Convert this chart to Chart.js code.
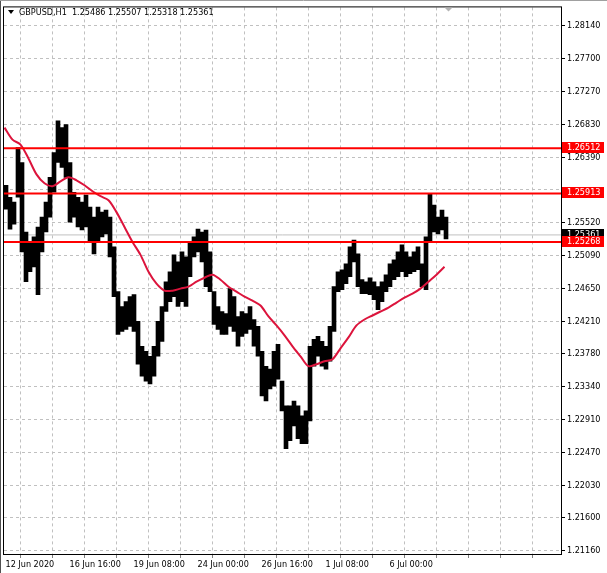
<!DOCTYPE html>
<html>
<head>
  <title>GBPUSD,H1</title>
  <meta charset="UTF-8">
  <script src="https://cdn.jsdelivr.net/npm/chart.js"></script>
  <style>
    body { margin: 0; background: #fff; }
    #wrap { width: 607px; height: 573px; }
  </style>
</head>
<body>
  <div id="wrap"><canvas id="priceChart" width="607" height="573"></canvas></div>

  <script>
    // H1 bars, grouped by 4 hours (index = hours since 12 Jun 2020 00:00, trading hours only)
    const barHigh = [
      1.26021, 1.25862, 1.25796, 1.26523, 1.26324, 1.25400, 1.25268, 1.25334, 1.25466, 1.25598,
      1.25796, 1.26126, 1.26457, 1.26879, 1.26787, 1.26826, 1.26324, 1.25928, 1.25862, 1.25796,
      1.25889, 1.25730, 1.25598, 1.25730, 1.25664, 1.25690, 1.25598, 1.25202, 1.24607, 1.24409,
      1.24475, 1.24541, 1.24568, 1.24211, 1.23881, 1.23815, 1.23748, 1.23881, 1.24211, 1.24409,
      1.24739, 1.24871, 1.25096, 1.25003, 1.25136, 1.25069, 1.25268, 1.25334, 1.25439, 1.25400,
      1.25426, 1.25136, 1.24607, 1.24409, 1.24343, 1.24317, 1.24647, 1.24541, 1.24277, 1.24343,
      1.24317, 1.24409, 1.24237, 1.24145, 1.23815, 1.23616, 1.23577, 1.23815, 1.23907, 1.23418,
      1.23088, 1.23088, 1.23154, 1.23088, 1.22956, 1.23022, 1.23881, 1.23973, 1.24013, 1.23947,
      1.23881, 1.24145, 1.24673, 1.24871, 1.24898, 1.24977, 1.25202, 1.25294, 1.25109, 1.24766,
      1.24739, 1.24792, 1.24739, 1.24673, 1.24739, 1.24832, 1.24977, 1.25030, 1.25136, 1.25228,
      1.25136, 1.25069, 1.25136, 1.25202, 1.24977, 1.25334, 1.25915, 1.25756, 1.25598, 1.25690, 1.25598
    ];
    const barLow = [
      1.25704, 1.25439, 1.25505, 1.25862, 1.25136, 1.24739, 1.24871, 1.24937, 1.24568, 1.25136,
      1.25400, 1.25598, 1.25928, 1.26324, 1.26258, 1.26126, 1.25532, 1.25598, 1.25466, 1.25426,
      1.25466, 1.25268, 1.25109, 1.25268, 1.25334, 1.25373, 1.25069, 1.24541, 1.24039, 1.24079,
      1.24105, 1.24145, 1.24079, 1.23643, 1.23484, 1.23418, 1.23379, 1.23484, 1.23748, 1.23947,
      1.24343, 1.24475, 1.24541, 1.24409, 1.24475, 1.24409, 1.24805, 1.25069, 1.25136, 1.25003,
      1.24673, 1.24607, 1.24171, 1.24105, 1.24039, 1.24039, 1.24145, 1.24079, 1.23881, 1.24013,
      1.24052, 1.24105, 1.23881, 1.23748, 1.23220, 1.23154, 1.23313, 1.23352, 1.23445, 1.23022,
      1.22520, 1.22626, 1.22824, 1.22652, 1.22586, 1.22586, 1.22890, 1.23616, 1.23748, 1.23616,
      1.23577, 1.23682, 1.24079, 1.24607, 1.24634, 1.24713, 1.24805, 1.25003, 1.24673, 1.24581,
      1.24581, 1.24568, 1.24501, 1.24369, 1.24475, 1.24607, 1.24673, 1.24766, 1.24805, 1.24871,
      1.24805, 1.24845, 1.24871, 1.24898, 1.24673, 1.24634, 1.25268, 1.25400, 1.25373, 1.25426, 1.25307
    ];
    const barsPerGroup = 4;

    // moving average, one value every 8 bars
    const maValues = [
      1.26787, 1.26628, 1.26562, 1.26377, 1.26166, 1.26047, 1.26007, 1.26073, 1.26126, 1.26087,
      1.26021, 1.25941, 1.25875, 1.25822, 1.25664, 1.25466, 1.25268, 1.25096, 1.24871, 1.24713,
      1.24620, 1.24620, 1.24647, 1.24673, 1.24739, 1.24792, 1.24832, 1.24766, 1.24673, 1.24607,
      1.24541, 1.24488, 1.24422, 1.24277, 1.24158, 1.24026, 1.23881, 1.23748, 1.23616, 1.23643,
      1.23682, 1.23709, 1.23854, 1.23999, 1.24158, 1.24237, 1.24290, 1.24343, 1.24396, 1.24462,
      1.24528, 1.24581, 1.24647, 1.24739, 1.24832, 1.24937
    ];
    const maStep = 8;

    const levels = [1.26512, 1.25913, 1.25268];
    const bidPrice = 1.25361;
    const lastOHLC = [1.25486, 1.25507, 1.25318, 1.25361];

    const yTicks = [1.28140, 1.27700, 1.27270, 1.26830, 1.26390, 1.25960, 1.25520, 1.25090,
                    1.24650, 1.24210, 1.23780, 1.23340, 1.22910, 1.22470, 1.22030, 1.21600, 1.21160];
    const xTickBars = [0, 64, 128, 192, 256, 320, 384];
    const xTickText = ['12 Jun 2020', '16 Jun 16:00', '19 Jun 08:00', '24 Jun 00:00',
                       '26 Jun 16:00', '1 Jul 08:00', '6 Jul 00:00'];

    const FONT = '"DejaVu Sans Condensed", "DejaVu Sans", sans-serif';
    Chart.defaults.font.family = FONT;
    Chart.defaults.font.size = 9;
    Chart.defaults.color = '#000';

    const xMin = -0.5, xMax = 556.5;
    const lastBar = barHigh.length * barsPerGroup - 1;

    const bars = barHigh.map((h, i) => ({ x: i * barsPerGroup + (barsPerGroup - 1) / 2, y: [barLow[i], h] }));
    const ma = maValues.map((v, i) => ({ x: i * maStep, y: v }));
    const flat = v => [{ x: xMin, y: v }, { x: xMax, y: v }];

    // grid every 32 bars
    const xGrid = [];
    for (let b = 0; b <= 544; b += 32) xGrid.push(b);

    // tick labels hidden under a level tag
    const underTag = v => levels.some(l => Math.abs(l - v) < 0.0007);

    const extras = {
      id: 'extras',
      afterDraw(chart) {
        const c = chart.ctx, a = chart.chartArea;
        const ys = chart.scales.y, xs = chart.scales.x;
        c.save();
        // frame
        c.strokeStyle = '#000';
        c.lineWidth = 1;
        c.strokeRect(a.left - 0.5, a.top - 0.5, a.right - a.left + 1, a.bottom - a.top + 1);
        c.strokeStyle = '#505050';
        c.beginPath(); c.moveTo(0.5, 0); c.lineTo(0.5, 573); c.stroke();
        c.strokeStyle = '#a0a0a0';
        c.beginPath(); c.moveTo(0, 0.5); c.lineTo(607, 0.5); c.stroke();

        // chart shift marker
        const mx = Math.round(xs.getPixelForValue(lastBar)) + 0.5;
        c.fillStyle = '#b4b4b4';
        c.beginPath(); c.moveTo(mx - 4, a.top); c.lineTo(mx + 4, a.top); c.lineTo(mx, a.top + 4); c.closePath(); c.fill();

        // title
        c.fillStyle = '#000';
        c.beginPath(); c.moveTo(8, 10); c.lineTo(14, 10); c.lineTo(11, 14); c.closePath(); c.fill();
        c.font = '9px ' + FONT;
        c.textBaseline = 'middle';
        c.textAlign = 'left';
        c.fillText('GBPUSD,H1  ' + lastOHLC.map(v => v.toFixed(5)).join(' '), 19, 12.5);

        // price labels on the axis
        const tag = (v, bg) => {
          const py = Math.round(ys.getPixelForValue(v)) - 1;
          c.fillStyle = bg;
          c.fillRect(a.right + 1, py - 5, 42, 11);
          c.fillStyle = '#fff';
          c.fillText(v.toFixed(5), a.right + 6, py + 0.5);
        };
        tag(bidPrice, '#000');
        levels.forEach(v => tag(v, '#ff0000'));
        c.restore();
      }
    };

    const ctx = document.getElementById('priceChart').getContext('2d');
    const chart = new Chart(ctx, {
      data: {
        datasets: [
          ...levels.map(v => ({
            type: 'line', data: flat(v), borderColor: '#ff0000', borderWidth: 2,
            pointRadius: 0, order: 0
          })),
          {
            type: 'line', label: 'MA', data: ma, borderColor: '#dc143c', borderWidth: 2,
            pointRadius: 0, tension: 0.3, order: 1
          },
          {
            type: 'bar', label: 'GBPUSD', data: bars, backgroundColor: '#000',
            barPercentage: 1, categoryPercentage: 1, borderWidth: 0, order: 2
          },
          {
            type: 'line', data: flat(bidPrice), borderColor: '#c0c0c0', borderWidth: 1,
            pointRadius: 0, order: 3
          }
        ]
      },
      options: {
        responsive: false,
        animation: false,
        layout: { padding: { left: 4, top: 4, right: 0, bottom: 0 } },
        plugins: { legend: { display: false }, tooltip: { enabled: false } },
        scales: {
          x: {
            type: 'linear', min: xMin, max: xMax, offset: false,
            afterBuildTicks: s => { s.ticks = xGrid.map(v => ({ value: v })); },
            afterFit: s => { s.height = 19; },
            grid: { color: '#c0c0c0', tickLength: 4, tickColor: '#808080' },
            border: { display: false, dash: [3, 3] },
            ticks: {
              autoSkip: false, maxRotation: 0, align: 'start', padding: 1, labelOffset: 1,
              callback: v => { const i = xTickBars.indexOf(v); return i < 0 ? '' : xTickText[i]; }
            }
          },
          y: {
            position: 'right',
            min: 1.21120, max: 1.28385,
            afterBuildTicks: s => { s.ticks = yTicks.map(v => ({ value: v })); },
            afterFit: s => { s.width = 46; },
            grid: { color: '#c0c0c0', tickLength: 4, tickColor: '#000' },
            border: { display: false, dash: [3, 3] },
            ticks: { padding: 2, callback: v => underTag(v) ? '' : v.toFixed(5) }
          }
        }
      },
      plugins: [extras]
    });
  </script>
</body>
</html>
